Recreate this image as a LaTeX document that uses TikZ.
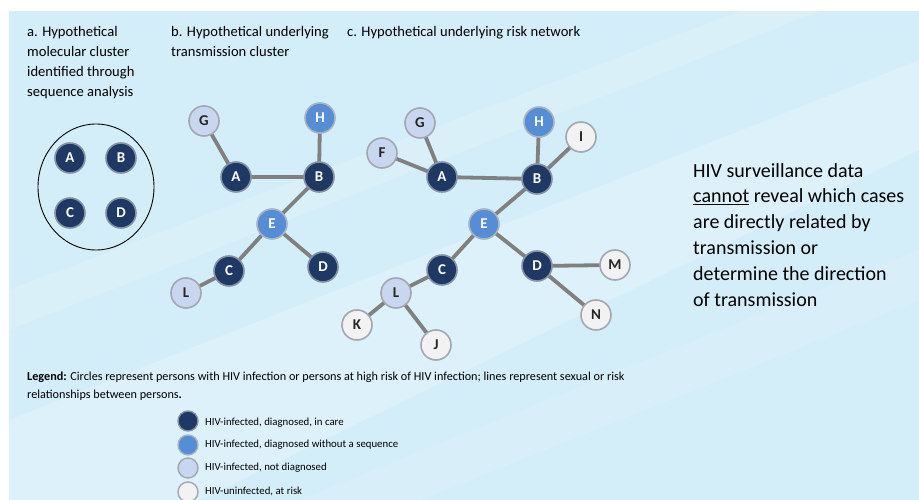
\documentclass[tikz,border=0pt]{standalone}
\usepackage{fontspec}
\setmainfont{Carlito}
\usetikzlibrary{shapes.geometric}
\definecolor{navy}{HTML}{1F3864}
\definecolor{midblue}{HTML}{558ED5}
\definecolor{paleblue}{HTML}{C8D6EF}
\definecolor{offwhite}{HTML}{F2F2F2}
\definecolor{ringdark}{HTML}{8592A6}
\definecolor{ringlight}{HTML}{A3A8B0}
\definecolor{linkgrey}{HTML}{808080}
\definecolor{skyback}{HTML}{D4EEF9}
\pgfdeclarelayer{back}
\pgfdeclarelayer{edges}
\pgfsetlayers{back,edges,main}
\begin{document}
\begin{tikzpicture}[x=1pt,y=-1pt,
  pnode/.style={circle, minimum size=30pt, inner sep=0pt,
    font=\fontsize{15}{15}\selectfont\bfseries, line width=1.6pt},
  dk/.style={pnode, fill=navy, draw=ringdark, text=white},
  md/.style={pnode, fill=midblue, draw=ringdark!70, text=white},
  lt/.style={pnode, fill=paleblue, draw=ringlight, text=black!85},
  wt/.style={pnode, fill=offwhite, draw=ringlight, text=black!85},
  keydot/.style={circle, minimum size=20pt, inner sep=0pt, line width=1.4pt},
  link/.style={draw=linkgrey, line width=3.8pt},
  heading/.style={anchor=base west, inner sep=0pt, align=left,
    font=\fontsize{14.6}{20}\selectfont},
  keytext/.style={anchor=west, inner sep=0pt, font=\fontsize{10.8}{12}\selectfont},
]
\useasboundingbox (0,0) rectangle (919,500);

% backdrop
\begin{pgfonlayer}{back}
  \fill[white] (0,0) rectangle (919,500);
  \fill[skyback] (9,11) rectangle (919,500);
  \fill[white, opacity=0.2] (9,500) -- (9,420) -- (919,60) -- (919,150) -- (200,500) -- cycle;
  \fill[white, opacity=0.13] (9,330) -- (9,290) -- (740,11) -- (820,11) -- cycle;
  \fill[white, opacity=0.1] (300,500) -- (919,250) -- (919,300) -- (420,500) -- cycle;
\end{pgfonlayer}

% headings (anchored at the baseline of their last line)
\node[heading] (ha) at (27,97) {a. Hypothetical\\molecular cluster\\identified through\\sequence analysis};
\node[heading] (hb) at (171,57) {b. Hypothetical underlying\\transmission cluster};
\node[heading] (hc) at (347,37) {c. Hypothetical underlying risk network};

% panel a: molecular cluster
\node[draw=black, line width=0.9pt, ellipse, minimum width=116pt, minimum height=126pt] (clus) at (96,187) {};
\node[dk] (aA) at (70,158) {A};
\node[dk] (aB) at (121,158) {B};
\node[dk] (aC) at (70,213) {C};
\node[dk] (aD) at (121,213) {D};

% panel b: transmission cluster
\node[lt] (bG) at (204,121) {G};
\node[md] (bH) at (320,118) {H};
\node[dk] (bA) at (236,177) {A};
\node[dk] (bB) at (319,177) {B};
\node[md] (bE) at (272,224) {E};
\node[dk] (bC) at (229,271) {C};
\node[dk] (bD) at (323,267) {D};
\node[lt] (bL) at (186,293) {L};

% panel c: risk network
\node[lt] (cG) at (420,123) {G};
\node[lt] (cF) at (382,153) {F};
\node[dk] (cA) at (442,177) {A};
\node[md] (cH) at (539,122) {H};
\node[wt] (cI) at (581,137) {I};
\node[dk] (cB) at (537,179) {B};
\node[md] (cE) at (484,224) {E};
\node[dk] (cC) at (442,270) {C};
\node[dk] (cD) at (537,266) {D};
\node[wt] (cM) at (615,265) {M};
\node[wt] (cN) at (596,315) {N};
\node[lt] (cL) at (396,293) {L};
\node[wt] (cK) at (357,325) {K};
\node[wt] (cJ) at (436,345) {J};

\begin{pgfonlayer}{edges}
  \foreach \u/\v in {bG/bA, bA/bB, bH/bB, bB/bE, bE/bC, bE/bD, bC/bL,
                     cG/cA, cF/cA, cA/cB, cH/cB, cI/cB, cB/cE, cE/cC, cE/cD,
                     cC/cL, cL/cK, cL/cJ, cD/cM, cD/cN}
    \draw[link] (\u.center) -- (\v.center);
\end{pgfonlayer}

% statement
\node[anchor=base west, inner sep=0pt, align=left,
  font=\fontsize{20}{25.8}\selectfont] (note) at (693,306)
  {HIV surveillance data\\\underline{cannot} reveal which cases\\are directly related by\\transmission or\\determine the direction\\of transmission};

% legend
\node[anchor=base west, inner sep=0pt, align=left,
  font=\fontsize{12.2}{18}\selectfont] (legend) at (27,398)
  {\textbf{Legend:} Circles represent persons with HIV infection or persons at high risk of HIV infection; lines represent sexual or risk\\relationships between persons\textbf{.}};

\node[keydot, fill=navy, draw=ringdark] (k1) at (188,421) {};
\node[keydot, fill=midblue, draw=ringdark!70] (k2) at (188,445) {};
\node[keydot, fill=paleblue, draw=ringlight] (k3) at (188,468) {};
\node[keydot, fill=offwhite, draw=ringlight] (k4) at (188,492) {};
\node[keytext] (t1) at (205,423) {HIV-infected, diagnosed, in care};
\node[keytext] (t2) at (205,445) {HIV-infected, diagnosed without a sequence};
\node[keytext] (t3) at (205,468) {HIV-infected, not diagnosed};
\node[keytext] (t4) at (205,491) {HIV-uninfected, at risk};
\end{tikzpicture}
\end{document}
